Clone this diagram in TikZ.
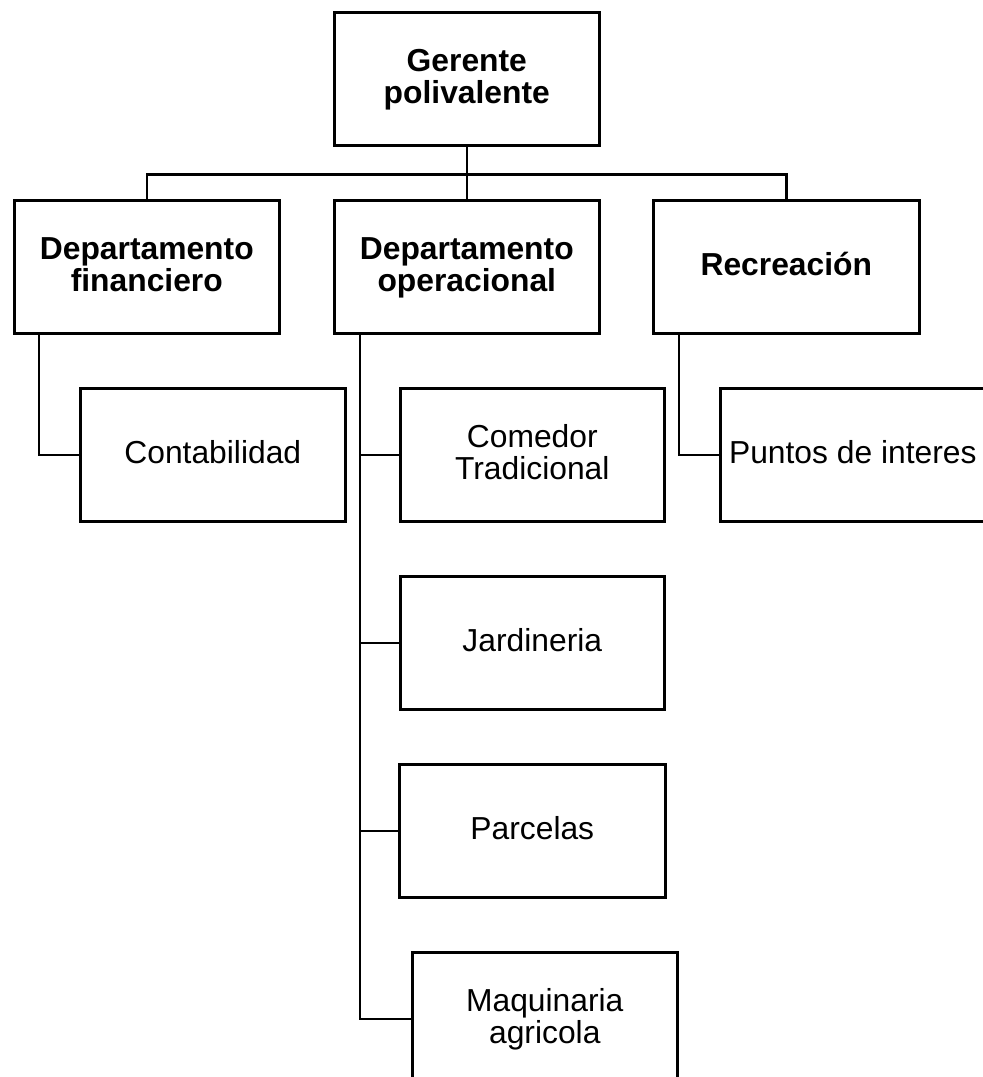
\documentclass[tikz,border=0pt]{standalone}
\usepackage{fontspec}
\setmainfont{Liberation Sans}
\usetikzlibrary{calc}
\tikzset{
  box/.style={draw=black, line width=2.6pt, minimum width=265pt, minimum height=133pt, inner sep=0pt, anchor=north west},
  lbl/.style={inner sep=0pt, align=center, anchor=north, font=\fontsize{31.8}{32}\selectfont},
  blbl/.style={lbl, font=\fontsize{31.8}{32}\selectfont\bfseries},
  conn/.style={draw=black, line width=2.6pt},
}
\newcommand{\fl}{\rule{0pt}{30pt}}
\begin{document}
\begin{tikzpicture}[x=1pt, y=-1pt]
\useasboundingbox[fill=white] (0,0) rectangle (983,1077);
% boxes
\node[box] (g) at (333,11) {};
\node[box] (fin) at (13,199) {};
\node[box] (ops) at (333,199) {};
\node[box, minimum width=266pt] (rec) at (652,199) {};
\node[box] (cont) at (79,387) {};
\node[box, minimum width=264pt] (com) at (399,387) {};
\node[box, minimum width=264pt] (jar) at (399,575) {};
\node[box, minimum width=266pt] (par) at (398,763) {};
\node[box] (maq) at (411,951) {};
\node[box] (pun) at (719,387) {};
% texts
\node[blbl] (gt) at ($(g.north)+(0,30)$) {\fl Gerente\\polivalente};
\node[blbl] (fint) at ($(fin.north)+(0,30)$) {\fl Departamento\\financiero};
\node[blbl] (opst) at ($(ops.north)+(0,30)$) {\fl Departamento\\operacional};
\node[blbl] (rect) at ($(rec.north)+(0,46)$) {\fl Recreación};
\node[lbl] (contt) at ($(cont.north)+(0,46)$) {\fl Contabilidad};
\node[lbl] (comt) at ($(com.north)+(0,30)$) {\fl Comedor\\Tradicional};
\node[lbl] (jart) at ($(jar.north)+(0,46)$) {\fl Jardineria};
\node[lbl] (part) at ($(par.north)+(0,46)$) {\fl Parcelas};
\node[lbl] (maqt) at ($(maq.north)+(0,30)$) {\fl Maquinaria\\agricola};
\node[lbl] (punt) at ($(pun.north)+(0,46)$) {\fl Puntos de interes};
% connectors
\coordinate (bus) at ($(g.south)+(0,28)$);
\draw[conn] (g.south) -- (bus) -| (fin.north);
\draw[conn] (bus) -| (rec.north);
\draw[conn] (bus) -- (ops.north);
\coordinate (fintr) at ($(fin.south west)+(26,0)$);
\draw[conn] (fintr) |- (cont.west);
\coordinate (opstr) at ($(ops.south west)+(27,0)$);
\draw[conn] (opstr) |- (maq.west);
\draw[conn] (com.west) -- (com.west -| opstr);
\draw[conn] (jar.west) -- (jar.west -| opstr);
\draw[conn] (par.west) -- (par.west -| opstr);
\coordinate (rectr) at ($(rec.south west)+(27,0)$);
\draw[conn] (rectr) |- (pun.west);
\end{tikzpicture}
\end{document}
